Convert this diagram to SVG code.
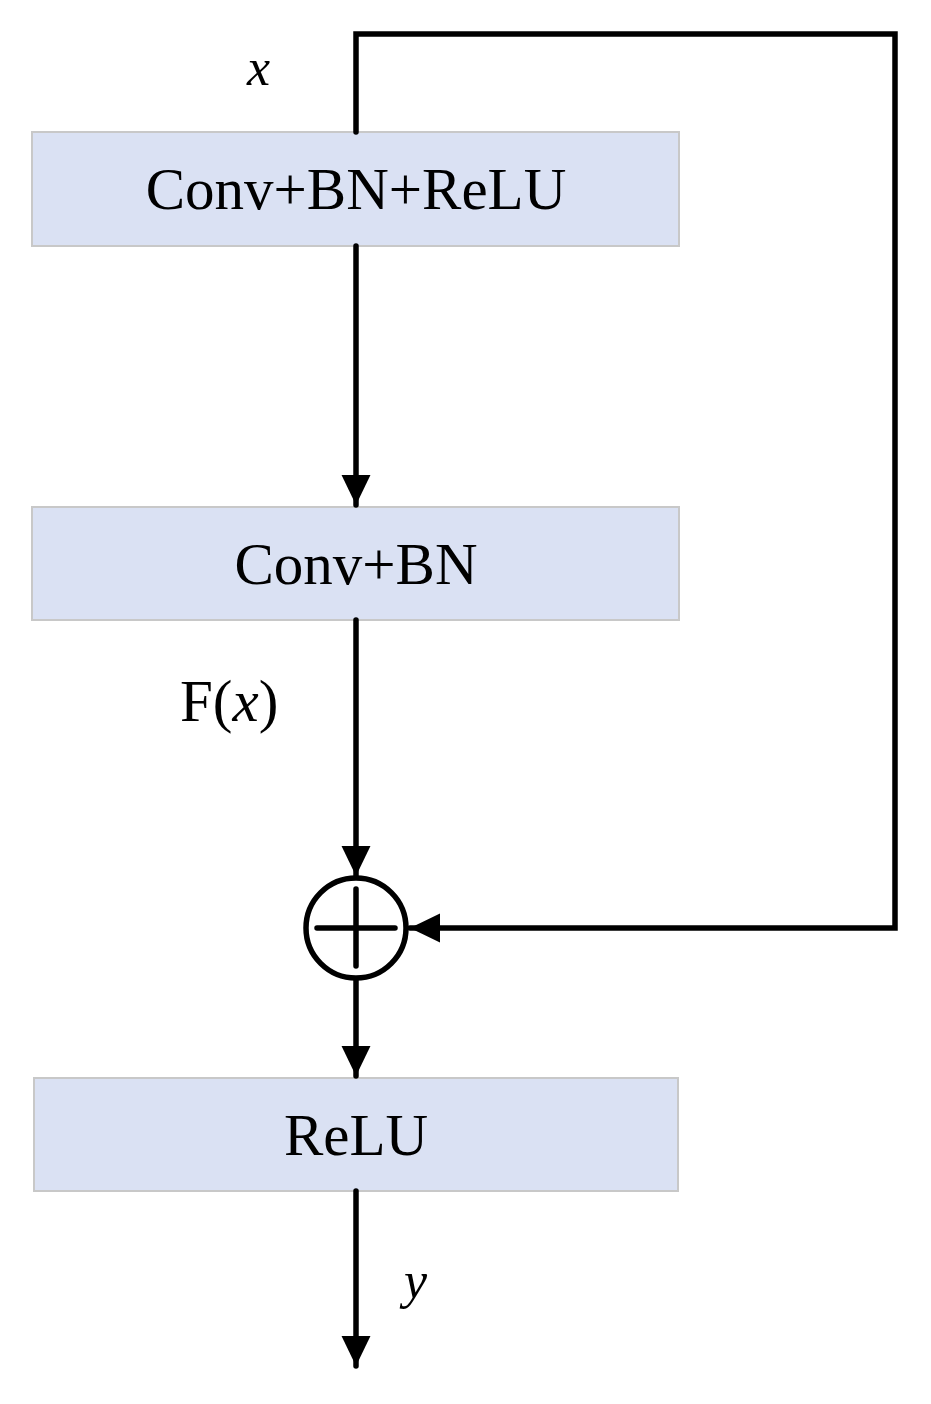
<svg xmlns="http://www.w3.org/2000/svg" width="931" height="1404" viewBox="0 0 931 1404">
<style>
.box{fill:#dae1f3;stroke:#c8c8c8;stroke-width:2}
.lbl{font-family:"Liberation Serif","Times New Roman",serif;font-size:59px;fill:#000;text-anchor:middle}
.var{font-family:"Liberation Serif","Times New Roman",serif;font-size:52px;fill:#000;font-style:italic}
.ln{fill:none;stroke:#000;stroke-width:5.5;stroke-linecap:round;stroke-linejoin:miter}
</style>
<defs>
<marker id="ah" markerUnits="userSpaceOnUse" markerWidth="30" markerHeight="30" viewBox="0 0 28 28" refX="28" refY="14" orient="auto">
<path d="M0,0.5 L28,14 L0,27.5 Z" fill="#000"/>
</marker>
</defs>
<rect width="931" height="1404" fill="#fff"/>
<g id="node1"><rect class="box" x="32" y="132" width="647" height="114"/><text class="lbl" x="356" y="209">Conv+BN+ReLU</text></g>
<g id="node2"><rect class="box" x="32" y="507" width="647" height="113"/><text class="lbl" x="356" y="584">Conv+BN</text></g>
<g id="node3"><rect class="box" x="34" y="1078" width="644" height="113"/><text class="lbl" x="356" y="1155">ReLU</text></g>
<g id="sum"><circle cx="356" cy="928" r="50" fill="#fff" stroke="#000" stroke-width="5.5"/><path class="ln" d="M317,928 H395 M356,889 V966"/></g>
<g id="connectors">
<path class="ln" d="M356,132 V34 H895 V928 H410" marker-end="url(#ah)"/>
<path class="ln" d="M356,246 V505" marker-end="url(#ah)"/>
<path class="ln" d="M356,620 V876" marker-end="url(#ah)"/>
<path class="ln" d="M356,980 V1076" marker-end="url(#ah)"/>
<path class="ln" d="M356,1191 V1366" marker-end="url(#ah)"/>
</g>
<g id="labels">
<text class="var" x="247" y="85">x</text>
<text x="180" y="721" style="font-family:'Liberation Serif','Times New Roman',serif;font-size:59px">F(<tspan font-style="italic">x</tspan>)</text>
<text class="var" x="404" y="1298">y</text>
</g>
</svg>
